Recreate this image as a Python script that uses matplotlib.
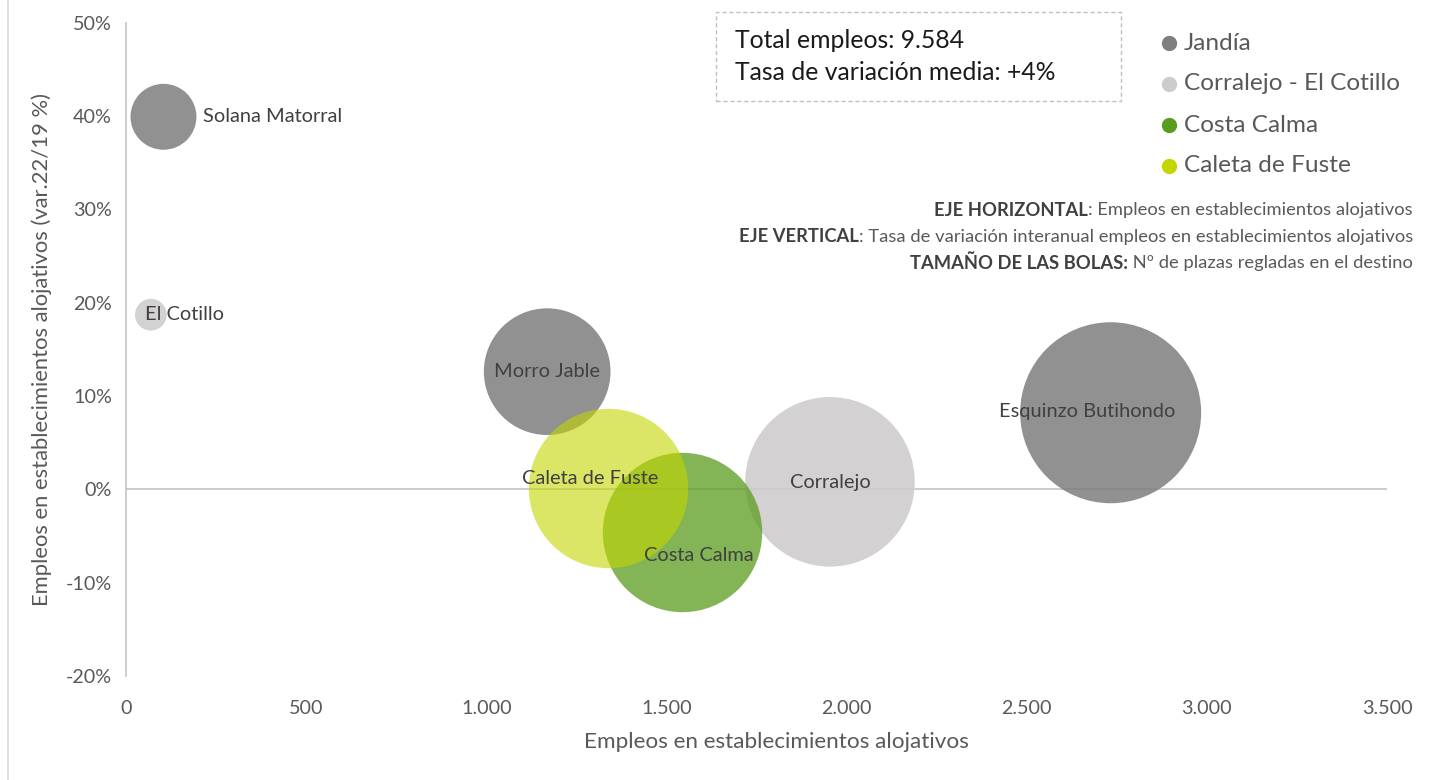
import matplotlib
matplotlib.use("Agg")
import matplotlib.pyplot as plt
from matplotlib.lines import Line2D
from matplotlib.patches import FancyBboxPatch
from matplotlib.ticker import FuncFormatter
import numpy as np

# ---------------- data ----------------
zones = ["Jandía", "Jandía", "Jandía", "Corralejo - El Cotillo", "Corralejo - El Cotillo",
         "Costa Calma", "Caleta de Fuste"]
names = ["Solana Matorral", "Morro Jable", "Esquinzo Butihondo", "El Cotillo", "Corralejo",
         "Costa Calma", "Caleta de Fuste"]
empleos = [104, 1169, 2733, 69, 1954, 1544, 1337]
variacion = [39.9, 12.6, 8.2, 18.7, 0.8, -4.6, 0.1]
plazas = [1300, 4800, 9800, 300, 8600, 7600, 7600]
series = ["Jandía", "Corralejo - El Cotillo", "Costa Calma", "Caleta de Fuste"]
x_ticks = [0, 500, 1000, 1500, 2000, 2500, 3000, 3500]
y_ticks = [-20, -10, 0, 10, 20, 30, 40, 50]

# ---------------- style ----------------
plt.rcParams['font.family'] = ['Lato', 'DejaVu Sans']
colors = {"Jandía": "#7f7f7f", "Corralejo - El Cotillo": "#cdcbcb",
          "Costa Calma": "#5a9c1e", "Caleta de Fuste": "#c4d600"}
alphas = {"Jandía": 0.86, "Corralejo - El Cotillo": 0.88,
          "Costa Calma": 0.75, "Caleta de Fuste": 0.6}
# label offsets in pixels (dx, dy) and alignment
label_pos = {"Solana Matorral": (40, 0, 'left'), "Morro Jable": (0, 0, 'center'),
             "Esquinzo Butihondo": (-23, 1, 'center'), "El Cotillo": (-6, 0, 'left'),
             "Corralejo": (0, -1, 'center'), "Costa Calma": (17, -23, 'center'),
             "Caleta de Fuste": (-18, 10, 'center')}

W, H = 1429, 780
fig = plt.figure(figsize=(W / 100, H / 100), dpi=100)
ax = fig.add_axes([126 / W, 1 - 676 / H, (1387 - 126) / W, (676 - 22.5) / H])

max_diam_pt = 2 * 90.5 * 0.72
k = max_diam_pt ** 2 / max(plazas)

for s in series:
    idx = [i for i, z in enumerate(zones) if z == s]
    ax.scatter([empleos[i] for i in idx], [variacion[i] for i in idx],
               s=[plazas[i] * k for i in idx], color=colors[s], alpha=alphas[s],
               linewidths=0, zorder=3)

for i, n in enumerate(names):
    dx, dy, ha = label_pos[n]
    ax.annotate(n, (empleos[i], variacion[i]), xytext=(dx * 0.72, dy * 0.72),
                textcoords='offset points', ha=ha, va='center', fontsize=14.4,
                color='#404040', zorder=5)

ax.set_xlim(0, 3500)
ax.set_ylim(-20, 50)
ax.set_xticks(x_ticks)
ax.set_yticks(y_ticks)
ax.xaxis.set_major_formatter(FuncFormatter(lambda v, p: f"{int(v):,}".replace(",", ".")))
ax.yaxis.set_major_formatter(FuncFormatter(lambda v, p: f"{int(v)}%"))
ax.tick_params(length=0, labelsize=14.2, colors='#595959')
ax.tick_params(axis='x', pad=17)
ax.tick_params(axis='y', pad=10)
for sp in ['top', 'right', 'bottom']:
    ax.spines[sp].set_visible(False)
ax.spines['left'].set_color('#bfbfbf')
ax.spines['left'].set_linewidth(1.1)
ax.axhline(0, color='#bfbfbf', lw=1.1, zorder=1)

ax.set_xlabel("Empleos en establecimientos alojativos", fontsize=16.2, color='#595959')
ax.xaxis.set_label_coords((776 - 126) / (1387 - 126), -(742 - 676) / (676 - 22.5))
ax.xaxis.label.set_va('center')
ax.set_ylabel("Empleos en establecimientos alojativos (var.22/19 %)", fontsize=15.8,
              color='#595959', labelpad=10)

# left border line
fig.add_artist(Line2D([8 / W, 8 / W], [0, 1], color='#d9d9d9', lw=1.2))

# info box
box = FancyBboxPatch((716 / W, 1 - 101 / H), (1121 - 716) / W, (101 - 12) / H,
                     boxstyle='square,pad=0', transform=fig.transFigure, fill=False,
                     edgecolor='#bfbfbf', lw=1.0, linestyle=(0, (3, 2)))
fig.add_artist(box)
fig.text(735 / W, 1 - 40 / H, "Total empleos: 9.584", fontsize=17.8, color='#1a1a1a', va='center')
fig.text(735 / W, 1 - 72 / H, "Tasa de variación media: +4%", fontsize=17.8, color='#1a1a1a', va='center')

# legend
for j, s in enumerate(series):
    yy = 1 - (43 + 41 * j) / H
    fig.add_artist(Line2D([1169 / W], [yy], marker='o', markersize=10, color=colors[s], lw=0))
    fig.text(1184 / W, yy, s, fontsize=17.6, color='#595959', va='center')

# axis descriptions
fig.canvas.draw()
renderer = fig.canvas.get_renderer()
desc = [("EJE HORIZONTAL", ": Empleos en establecimientos alojativos", 210),
        ("EJE VERTICAL", ": Tasa de variación interanual empleos en establecimientos alojativos", 237),
        ("TAMAÑO DE LAS BOLAS:", " Nº de plazas regladas en el destino", 263)]
xr = 1413
for bold, normal, yp in desc:
    t = fig.text(xr / W, 1 - yp / H, normal, fontsize=13.2, color='#595959', ha='right', va='center')
    bb = t.get_window_extent(renderer)
    fig.text(bb.x0 / W, 1 - yp / H, bold, fontsize=13.2, color='#404040', ha='right',
             va='center', fontweight='bold')

fig.savefig("out.png", dpi=100)
